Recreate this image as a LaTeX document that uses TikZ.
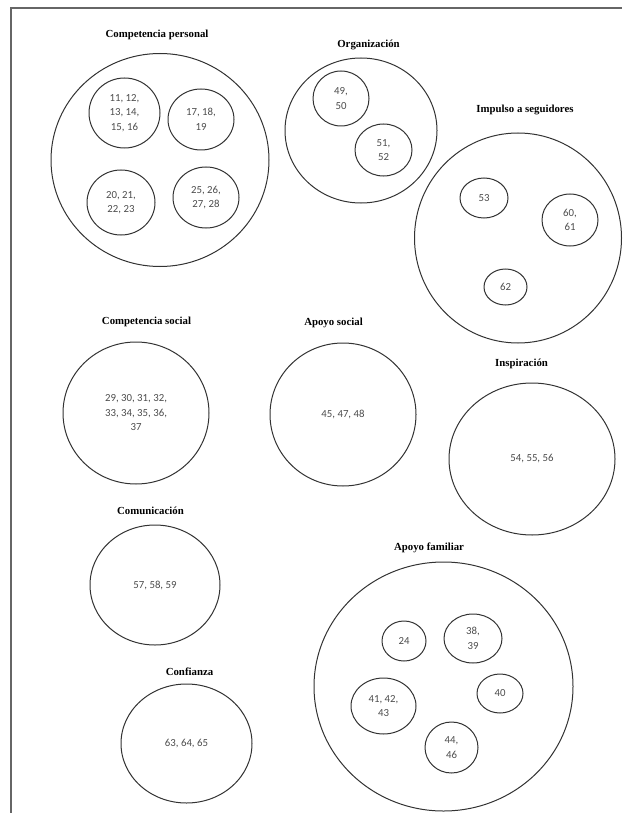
\documentclass[tikz,border=0pt]{standalone}
\usepackage{fontspec}
\setmainfont{Liberation Serif}
\newfontfamily\numfont{Carlito}
\usetikzlibrary{shapes.geometric}
\begin{document}
\begin{tikzpicture}[x=1pt,y=-1pt,
  group/.style={draw=black!80, line width=1pt, ellipse, inner sep=0pt,
    align=center, font=\numfont\fontsize{10.8}{14.5}\selectfont, text=black!70},
  item/.style={group},
  title/.style={font=\bfseries\fontsize{10.8}{13}\selectfont, inner sep=0pt, anchor=center},
  frame/.style={draw=black!60, line width=2pt}]
\useasboundingbox (0,0) rectangle (622,813);

% page frame
\coordinate (fb) at (10.5,813);
\coordinate (fc) at (10.5,8.5);
\coordinate (fr) at (622,8.5);
\draw[frame] (fb) -- (fc) -- (fr);

% Competencia personal
\node[title] (tcp) at (157,35) {Competencia personal};
\node[group, minimum width=218pt, minimum height=213pt] (cp) at (160,160) {};
\node[item, minimum width=71pt, minimum height=70pt] (cp1) at (124.5,113) {11, 12,\\13, 14,\\15, 16};
\node[item, minimum width=66pt, minimum height=61pt] (cp2) at (201,119.5) {17, 18,\\19};
\node[item, minimum width=68pt, minimum height=65pt] (cp3) at (121,202.5) {20, 21,\\22, 23};
\node[item, minimum width=66pt, minimum height=61pt] (cp4) at (206,197.5) {25, 26,\\27, 28};

% Organizacion
\node[title] (tor) at (368.5,45) {Organización};
\node[group, minimum width=152pt, minimum height=145pt] (or) at (361,130.5) {};
\node[item, minimum width=56pt, minimum height=55pt] (or1) at (341,98.5) {49,\\50};
\node[item, minimum width=57pt, minimum height=52pt] (or2) at (383.5,150) {51,\\52};

% Impulso a seguidores
\node[title] (tis) at (525,110) {Impulso a seguidores};
\node[group, minimum width=207pt, minimum height=210pt] (is) at (518,238) {};
\node[item, minimum width=48pt, minimum height=40pt] (is1) at (484,198) {53};
\node[item, minimum width=56pt, minimum height=52pt] (is2) at (570,220) {60,\\61};
\node[item, minimum width=43pt, minimum height=36pt] (is3) at (505.5,287) {62};

% Competencia social
\node[title] (tcs) at (146.5,322) {Competencia social};
\node[group, minimum width=146pt, minimum height=142pt] (cs) at (136,413) {29, 30, 31, 32,\\33, 34, 35, 36,\\37};

% Apoyo social
\node[title] (tas) at (333.5,323) {Apoyo social};
\node[group, minimum width=146pt, minimum height=143pt] (as) at (343,414.5) {45, 47, 48};

% Inspiracion
\node[title] (tin) at (521.5,364) {Inspiración};
\node[group, minimum width=166pt, minimum height=152pt] (in) at (532,459) {54, 55, 56};

% Comunicacion
\node[title] (tco) at (150.5,511) {Comunicación};
\node[group, minimum width=130pt, minimum height=120pt] (co) at (155,585) {57, 58, 59};

% Apoyo familiar
\node[title] (taf) at (429,548) {Apoyo familiar};
\node[group, minimum width=259pt, minimum height=249pt] (af) at (443.5,686.5) {};
\node[item, minimum width=44pt, minimum height=40pt] (af1) at (404,641) {24};
\node[item, minimum width=58pt, minimum height=49pt] (af2) at (473,638.5) {38,\\39};
\node[item, minimum width=46pt, minimum height=39pt] (af3) at (500,693.5) {40};
\node[item, minimum width=65pt, minimum height=56pt] (af4) at (383.5,706) {41, 42,\\43};
\node[item, minimum width=53pt, minimum height=51pt] (af5) at (451.5,747.5) {44,\\46};

% Confianza
\node[title] (tcf) at (189.5,672) {Confianza};
\node[group, minimum width=131pt, minimum height=119pt] (cf) at (186.5,743.5) {63, 64, 65};
\end{tikzpicture}
\end{document}
